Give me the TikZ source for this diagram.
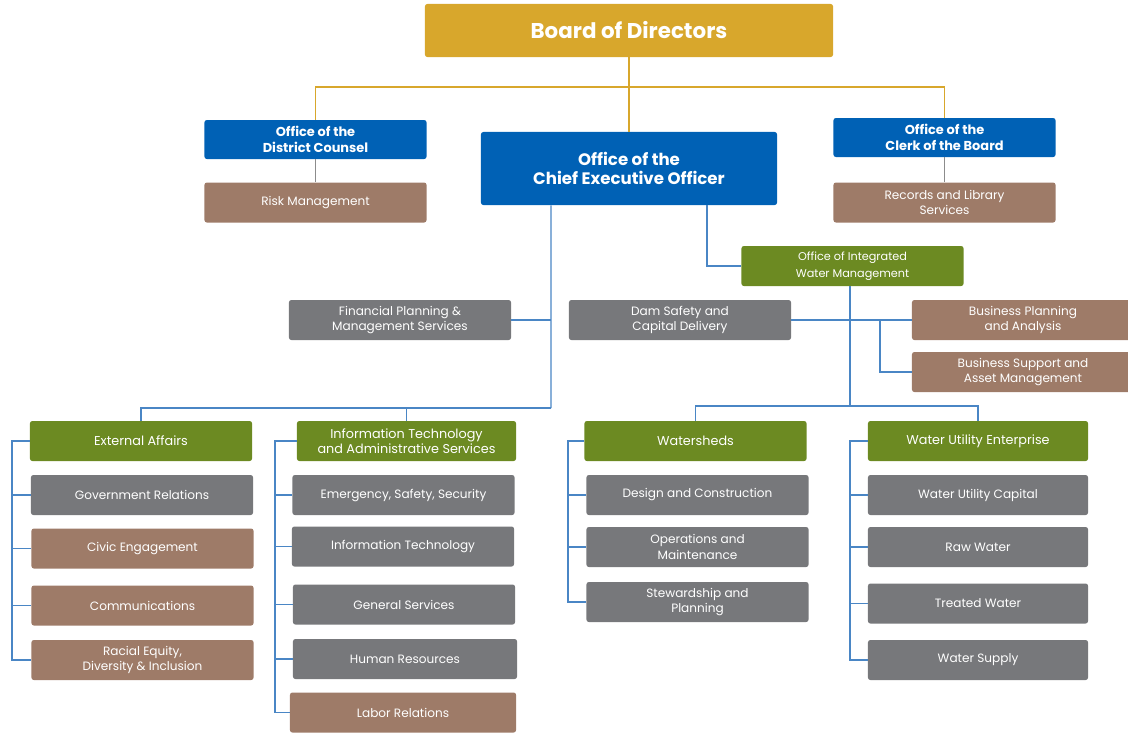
\documentclass[tikz,border=0pt]{standalone}
\usepackage{fontspec}
\setmainfont{Poppins}
\usetikzlibrary{positioning}
\definecolor{orgGold}{HTML}{D8A72C}
\definecolor{orgBlue}{HTML}{0061B5}
\definecolor{orgGreen}{HTML}{6C8A22}
\definecolor{orgGray}{HTML}{77787B}
\definecolor{orgBrown}{HTML}{9E7B68}
\definecolor{orgLine}{HTML}{4A86C5}
\definecolor{orgGrayLine}{HTML}{8C8C8C}
\tikzstyle{recNode} = [rectangle, minimum width=5.55cm, minimum height=1cm, align=center, rounded corners=0.06cm, text=white, inner sep=1pt, font=\fontsize{8.6}{11}\selectfont]
\tikzstyle{recNodeGray} = [recNode, fill=orgGray]
\tikzstyle{recNodeBrown} = [recNode, fill=orgBrown]
\tikzstyle{recNodeGreen} = [recNode, fill=orgGreen, font=\fontsize{9.1}{10.5}\selectfont]
\tikzstyle{recNodeBlue} = [recNode, fill=orgBlue, minimum height=0.975cm, font=\bfseries\fontsize{9.2}{11.2}\selectfont]
\tikzstyle{line} = [draw=orgLine, line width=0.8pt]
\tikzstyle{lineG} = [draw=orgGold, line width=0.8pt]

\begin{document}
\begin{tikzpicture}[x=0.025cm, y=-0.025cm]
        \useasboundingbox (0,0) rectangle (1128,732);
        % top level
        \node (board) [recNode, fill=orgGold, minimum width=10.2cm, minimum height=1.325cm, font=\bfseries\fontsize{15.2}{17}\selectfont] at (629,30.5) {Board of Directors};
        \node (counsel) [recNodeBlue] at (315.5,139.5) {Office of the\\District Counsel};
        \node (risk) [recNodeBrown] at (315.5,202.5) {Risk Management};
        \node (ceo) [recNode, fill=orgBlue, minimum width=7.4cm, minimum height=1.825cm, font=\bfseries\fontsize{11.8}{13.5}\selectfont] at (629,168.5) {Office of the\\Chief Executive Officer};
        \node (clerk) [recNodeBlue] at (944.5,137.5) {Office of the\\Clerk of the Board};
        \node (records) [recNodeBrown] at (944.5,202.5) {Records and Library\\Services};

        \coordinate (topBus) at (629,87);
        \draw [lineG] (board) -- (ceo);
        \draw [lineG] (counsel.north) |- (topBus) -| (clerk.north);
        \draw [draw=orgGrayLine, line width=0.8pt] (counsel) -- (risk);
        \draw [draw=orgGrayLine, line width=0.8pt] (clerk) -- (records);

        % second level
        \node (oiwm) [recNodeGreen, font=\fontsize{8}{12}\selectfont] at (852.5,266) {Office of Integrated\\Water Management};
        \node (fin) [recNodeGray] at (400,320) {Financial Planning \&\\Management Services};
        \node (dam) [recNodeGray] at (680,320) {Dam Safety and\\Capital Delivery};
        \node (bp) [recNodeBrown] at (1023,320) {Business Planning\\and Analysis};
        \node (bs) [recNodeBrown] at (1023,372) {Business Support and\\Asset Management};

        \coordinate (lBus) at (551,408);
        \coordinate (rBus) at (850,406);
        \coordinate (bpJ) at (880,320);
        \draw [line] ([xshift=-1.95cm]ceo.south) -- (lBus);
        \draw [line] ([xshift=1.95cm]ceo.south) |- (oiwm.west);
        \draw [line] (fin.east) -- (fin.east -| lBus);
        \draw [line] (oiwm.south -| rBus) -- (rBus);
        \draw [line] (dam.east) -- (bp.west);
        \draw [line] (bpJ) |- (bs.west);

        % departments
        \node (ea) [recNodeGreen] at (141,441) {External Affairs};
        \node (itas) [recNodeGreen, minimum width=5.475cm] at (406.5,441) {Information Technology\\and Administrative Services};
        \node (ws) [recNodeGreen] at (695.5,441) {Watersheds};
        \node (wue) [recNodeGreen, minimum width=5.5cm] at (978,441) {Water Utility Enterprise};

        \draw [line] (lBus) -| (ea.north);
        \draw [line] (itas.north) -- (itas.north |- lBus);
        \draw [line] (ws.north) |- (rBus) -| (wue.north);

        % external affairs
        \node (gov) [recNodeGray] at (142,495) {Government Relations};
        \node (civic) [recNodeBrown] at (142.5,548.5) {Civic Engagement};
        \node (comm) [recNodeBrown] at (142.5,605.5) {Communications};
        \node (racial) [recNodeBrown] at (142.5,660) {Racial Equity,\\Diversity \& Inclusion};

        % IT and administrative services
        \node (emerg) [recNodeGray] at (403.5,495) {Emergency, Safety, Security};
        \node (itech) [recNodeGray] at (403,546.5) {Information Technology};
        \node (gen) [recNodeGray] at (404,604.5) {General Services};
        \node (hr) [recNodeGray, minimum width=5.6cm] at (405,659) {Human Resources};
        \node (labor) [recNodeBrown, minimum width=5.65cm] at (403,712.5) {Labor Relations};

        % watersheds
        \node (design) [recNodeGray] at (697.5,495) {Design and Construction};
        \node (ops) [recNodeGray] at (697.5,547) {Operations and\\Maintenance};
        \node (stew) [recNodeGray] at (697.5,602) {Stewardship and\\Planning};

        % water utility enterprise
        \node (wuc) [recNodeGray, minimum width=5.5cm] at (978,495) {Water Utility Capital};
        \node (raw) [recNodeGray, minimum width=5.5cm] at (978,547) {Raw Water};
        \node (treated) [recNodeGray, minimum width=5.5cm] at (978,603.5) {Treated Water};
        \node (supply) [recNodeGray, minimum width=5.5cm] at (978,660) {Water Supply};

        \coordinate (eaBus) at (12,441);
        \coordinate (itBus) at (275,441);
        \coordinate (wsBus) at (568,441);
        \coordinate (wueBus) at (850,441);

        \draw [line] (ea.west) -- (eaBus) |- (racial.west);
        \foreach \n in {gov,civic,comm}
            \draw [line] (\n.west) -- (\n.west -| eaBus);
        \draw [line] (itas.west) -- (itBus) |- (labor.west);
        \foreach \n in {emerg,itech,gen,hr}
            \draw [line] (\n.west) -- (\n.west -| itBus);
        \draw [line] (ws.west) -- (wsBus) |- (stew.west);
        \foreach \n in {design,ops}
            \draw [line] (\n.west) -- (\n.west -| wsBus);
        \draw [line] (wue.west) -- (wueBus) |- (supply.west);
        \foreach \n in {wuc,raw,treated}
            \draw [line] (\n.west) -- (\n.west -| wueBus);

    \end{tikzpicture}
\end{document}
